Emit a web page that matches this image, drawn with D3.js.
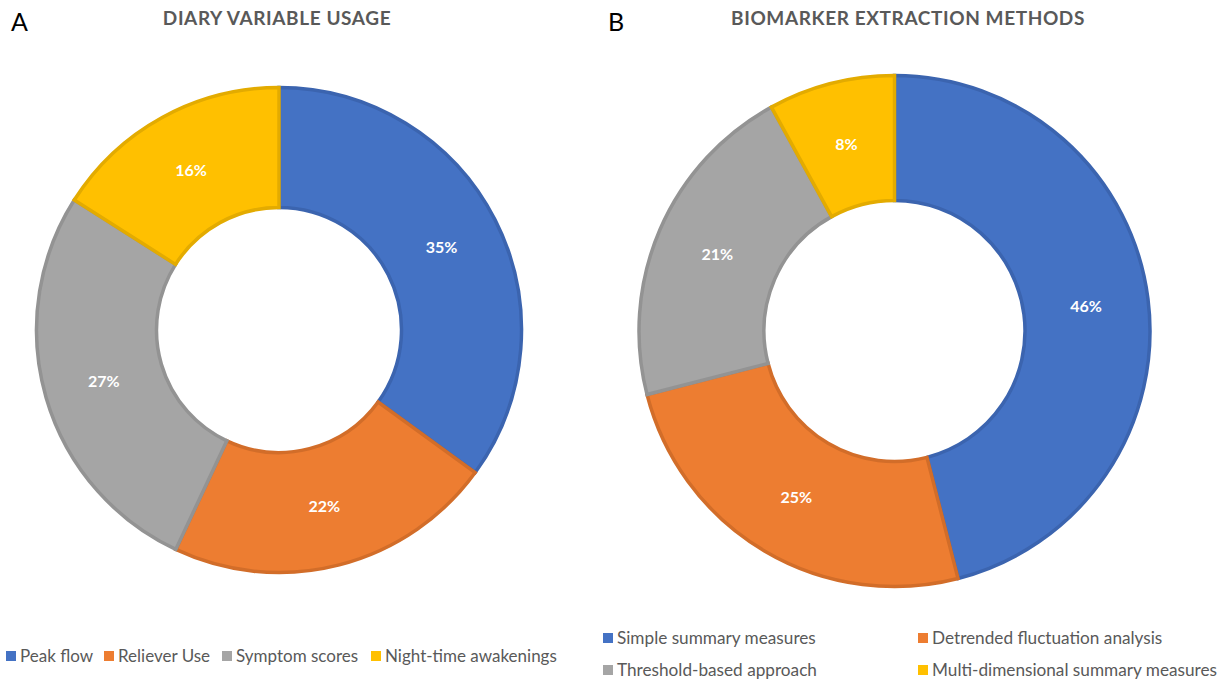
<!DOCTYPE html>
<html><head><meta charset="utf-8">
<script src="https://cdn.jsdelivr.net/npm/d3@7"></script>
<style>body{margin:0;background:#fff}svg{display:block}</style>
</head><body>
<svg id="c" width="1225" height="682"></svg>
<script>
const categoriesA = ["Peak flow", "Reliever Use", "Symptom scores", "Night-time awakenings"];
const valuesA = [35, 22, 27, 16];
const categoriesB = ["Simple summary measures", "Detrended fluctuation analysis", "Threshold-based approach", "Multi-dimensional summary measures"];
const valuesB = [46, 25, 21, 8];
const fills = ["#4472C4", "#ED7D31", "#A5A5A5", "#FFC000"];
const strokes = ["#3B64AF", "#D26D29", "#939393", "#E3AB00"];
const FONT = "Lato, 'Open Sans', sans-serif";

const svg = d3.select("#c");

function donut(cfg) {
  const g = svg.append("g").attr("transform", `translate(${cfg.cx},${cfg.cy})`);
  const pie = d3.pie().sort(null).value(d => d);
  const arcs = pie(cfg.values);
  const labelArc = d3.arc().innerRadius((cfg.r + cfg.ir) / 2).outerRadius((cfg.r + cfg.ir) / 2);
  g.selectAll("path").data(arcs).join("path")
    .attr("d", d3.arc().innerRadius(cfg.ir + 1.5).outerRadius(cfg.r - 1.5))
    .attr("fill", (d, i) => fills[i])
    .attr("stroke", (d, i) => strokes[i])
    .attr("stroke-width", 3.5)
    .attr("stroke-linejoin", "miter");
  g.selectAll("text").data(arcs).join("text")
    .attr("transform", d => `translate(${labelArc.centroid(d)})`)
    .attr("text-anchor", "middle").attr("dy", "0.35em")
    .attr("fill", "#fff").attr("font-family", FONT).attr("font-weight", "bold")
    .attr("font-size", 16)
    .text(d => d.data + "%");
}

donut({cx: 279, cy: 330, r: 244, ir: 121, values: valuesA});
donut({cx: 894.5, cy: 331, r: 257, ir: 129, values: valuesB});

// Panel letters & titles
svg.append("text").attr("x", 11).attr("y", 31).attr("font-family", FONT).attr("font-size", 25).attr("fill", "#000").text("A");
svg.append("text").attr("x", 608).attr("y", 31).attr("font-family", FONT).attr("font-size", 25).attr("fill", "#000").text("B");
svg.append("text").attr("x", 277).attr("y", 25).attr("text-anchor", "middle").attr("font-family", FONT).attr("font-weight", "bold").attr("font-size", 19).attr("fill", "#595959").attr("letter-spacing", 0.6).text("DIARY VARIABLE USAGE");
svg.append("text").attr("x", 908).attr("y", 25).attr("text-anchor", "middle").attr("font-family", FONT).attr("font-weight", "bold").attr("font-size", 19).attr("fill", "#595959").attr("letter-spacing", 0.6).text("BIOMARKER EXTRACTION METHODS");

function legend(items, positions, fs) {
  items.forEach((t, i) => {
    const p = positions[i];
    svg.append("rect").attr("x", p[0]).attr("y", p[1] - 5).attr("width", 10).attr("height", 10).attr("fill", fills[i]);
    svg.append("text").attr("x", p[0] + 14).attr("y", p[1]).attr("dy", "0.35em")
      .attr("font-family", FONT).attr("font-size", fs).attr("fill", "#595959").text(t);
  });
}
legend(categoriesA, [[6, 656], [104, 656], [222, 656], [371, 656]], 17);
legend(categoriesB, [[603, 638], [918, 638], [603, 670], [918, 670]], 17.2);
</script>
</body></html>
